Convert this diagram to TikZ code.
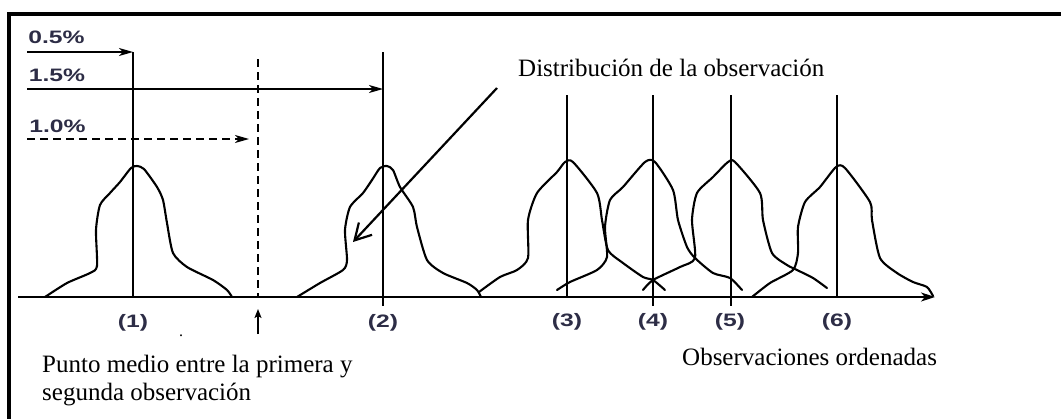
\documentclass[tikz,border=0pt]{standalone}
\usepackage{fontspec}
\setmainfont{Liberation Serif}
\newfontfamily\lblsans{Liberation Sans}
\usetikzlibrary{arrows.meta}
\definecolor{labelcol}{RGB}{45,45,70}
\tikzset{
  framestyle/.style={line width=3.8pt},
  obsline/.style={line width=1.5pt},
  dashline/.style={line width=1.5pt, dash pattern=on 8pt off 5pt},
  curvestyle/.style={line width=2.1pt, line join=round, line cap=round},
  axisstyle/.style={line width=1.7pt, -{Stealth[length=14pt,width=9pt,inset=4pt]}},
  pctarrow/.style={line width=1.5pt, -{Stealth[length=14pt,width=8pt,inset=4pt]}},
  pctdash/.style={pctarrow, dash pattern=on 8pt off 5pt},
  uparrow/.style={line width=1.5pt, -{Stealth[length=9pt,width=7pt,inset=2pt]}},
  distarrow/.style={line width=2.2pt, -{Straight Barb[length=16pt,width=18pt]}},
  lbl/.style={inner sep=0pt, text=labelcol, font=\lblsans\bfseries\fontsize{18}{20}\selectfont},
  txt/.style={inner sep=0pt, font=\fontsize{25}{28}\selectfont},
}
\begin{document}
\begin{tikzpicture}[x=1pt,y=-1pt]
\useasboundingbox (0,0) rectangle (1061,418);
\fill[white] (0,0) rectangle (1061,418);
% frame
\draw[framestyle] (8.7,420) -- (8.7,13.7) -- (1063,13.7);

% axis
\coordinate (ax0) at (18,297);
\coordinate (ax1) at (935,297);
\draw[axisstyle] (ax0) -- (ax1);

% observation lines
\coordinate (t1) at (133,52);  \coordinate (b1) at (133,297);
\coordinate (t2) at (383,52);  \coordinate (b2) at (383,306);
\coordinate (t3) at (567,95);  \coordinate (b3) at (567,297);
\coordinate (t4) at (653,95);  \coordinate (b4) at (653,306);
\coordinate (t5) at (731,95);  \coordinate (b5) at (731,306);
\coordinate (t6) at (837,95);  \coordinate (b6) at (837,297);
\foreach \i in {1,...,6} { \draw[obsline] (t\i) -- (b\i); }

% dashed midpoint line
\coordinate (mt) at (258,59);
\coordinate (mb) at (258,297);
\draw[dashline] (mt) -- (mb);

% percentage arrows
\coordinate (s05) at (27,52);
\coordinate (s15) at (27,89);
\coordinate (s10) at (27,139);
\coordinate (e15) at (383,89);
\coordinate (e10) at (249,139);
\draw[pctarrow] (s05) -- (t1);
\draw[pctarrow] (s15) -- (e15);
\draw[pctdash] (s10) -- (e10);

\node[lbl] (p05) at (56.5,37) {\scalebox{1.37}[1]{0.5\%}};
\node[lbl] (p15) at (57,75) {\scalebox{1.37}[1]{1.5\%}};
\node[lbl] (p10) at (57.5,126) {\scalebox{1.37}[1]{1.0\%}};

% distributions
\draw[curvestyle] plot[smooth, tension=0.4] coordinates {(45,297) (67,283) (90,273) (97,266) (96,230) (100,205) (110,193) (120,182) (131,168) (137,166) (144,169) (157,187) (163,200) (167,223) (173,253) (187,267) (213,280) (227,290) (232,297)};
\draw[curvestyle] plot[smooth, tension=0.4] coordinates {(297,297) (320,283) (343,270) (347,260) (345,230) (350,207) (363,193) (372,180) (380,168) (387,166) (393,170) (400,187) (413,207) (417,227) (427,260) (443,273) (467,283) (477,290) (481,297)};
\draw[curvestyle] plot[smooth, tension=0.4] coordinates {(479,292) (500,277) (517,270) (528,258) (528,220) (537,193) (557,172) (565,162) (573,162) (597,193) (602,220) (608,250) (623,263) (643,277) (653,280) (665,290)};
\draw[curvestyle] plot[smooth, tension=0.4] coordinates {(557,290) (570,282) (597,270) (607,257) (605,227) (610,200) (623,187) (645,162) (655,162) (673,190) (678,220) (687,247) (695,258) (713,273) (730,278) (742,290)};
\draw[curvestyle] plot[smooth, tension=0.4] coordinates {(643,290) (653,280) (680,267) (695,258) (692,220) (697,193) (713,177) (728,162) (735,162) (760,193) (763,220) (772,253) (787,265) (797,270) (813,278) (827,288)};
\draw[curvestyle] plot[smooth, tension=0.4] coordinates {(752,297) (770,283) (793,270) (798,253) (798,227) (805,202) (820,187) (836,167) (845,168) (870,202) (872,220) (880,258) (897,273) (913,282) (927,287) (933,296)};

% observation labels
\node[lbl] (l1) at (133,323) {\scalebox{1.37}[1]{(1)}};
\node[lbl] (l2) at (383,323) {\scalebox{1.37}[1]{(2)}};
\node[lbl] (l3) at (567,322) {\scalebox{1.37}[1]{(3)}};
\node[lbl] (l4) at (653,322) {\scalebox{1.37}[1]{(4)}};
\node[lbl] (l5) at (730,322) {\scalebox{1.37}[1]{(5)}};
\node[lbl] (l6) at (837,322) {\scalebox{1.37}[1]{(6)}};

% up arrow to midpoint
\coordinate (ua) at (258,334);
\coordinate (ub) at (258,309);
\draw[uparrow] (ua) -- (ub);

% stray dot
\node[inner sep=0pt, anchor=base, font=\fontsize{16}{16}\selectfont] (dot) at (181,336) {.};

% texts
\node[txt, anchor=base west] (dist) at (518,76) {Distribución de la observación};
\node[txt, anchor=base west] (obs) at (682,365) {Observaciones ordenadas};
\node[txt, anchor=base west, align=left] (punto) at (42,400) {Punto medio entre la primera y\\segunda observación};

% distribution arrow
\coordinate (da) at (497,88);
\coordinate (db) at (353,242);
\draw[distarrow] (da) -- (db);
\end{tikzpicture}
\end{document}
